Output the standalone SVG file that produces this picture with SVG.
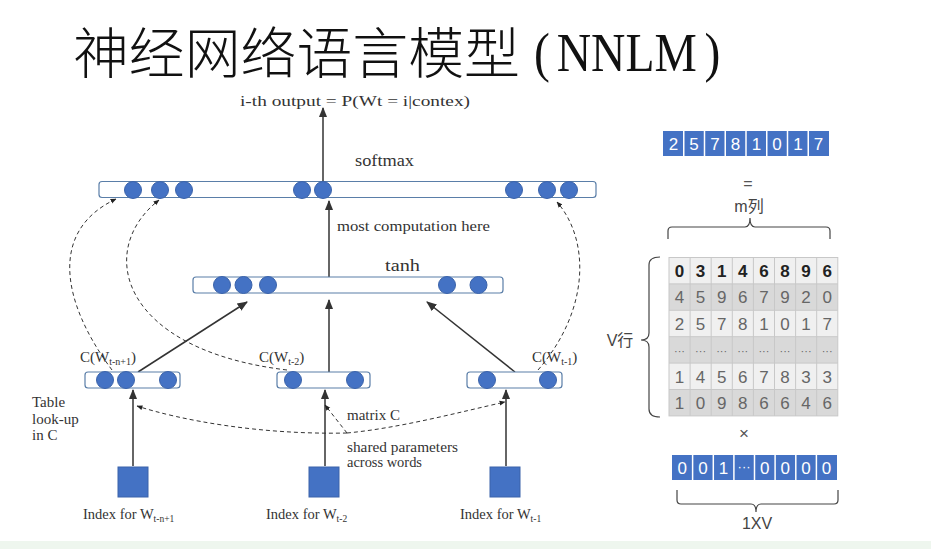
<svg xmlns="http://www.w3.org/2000/svg" width="931" height="549" viewBox="0 0 931 549">
<defs>
<style>
.bar{fill:#fff;stroke:#5a7ea8;stroke-width:1.2}
.nd{fill:#4472c4;stroke:#3b63aa;stroke-width:1}
.ln{stroke:#333;stroke-width:1.5;fill:none}
.ds{stroke:#333;stroke-width:1;fill:none;stroke-dasharray:4 3}
.sf{font-family:"Liberation Serif","DejaVu Serif",serif;fill:#333}
.ss{font-family:"Liberation Sans",Arial,sans-serif}
.cw{fill:#fff;font-size:17px;text-anchor:middle}
.mg{fill:#666;font-size:17px;text-anchor:middle}
.sq{fill:#4472c4;stroke:#3b63aa;stroke-width:1}
.br{stroke:#444;stroke-width:1.2;fill:none}
</style>
<marker id="ah" viewBox="0 0 10 10" refX="9" refY="5" markerWidth="7" markerHeight="7" orient="auto-start-reverse">
<path d="M0,1 L10,5 L0,9 z" fill="#333"/>
</marker>
<marker id="ahs" viewBox="0 0 10 10" refX="9" refY="5" markerWidth="6" markerHeight="6" orient="auto-start-reverse">
<path d="M0,1 L10,5 L0,9 z" fill="#222"/>
</marker>
</defs>
<rect width="931" height="549" fill="#fff"/>
<rect x="0" y="541" width="931" height="8" fill="#eef6ee"/>

<g id="title" fill="#111">
<text x="73" y="73" font-family="'Noto Sans CJK SC','Noto Sans CJK JP',sans-serif" font-weight="300" font-size="55" textLength="447" lengthAdjust="spacingAndGlyphs">神经网络语言模型</text>
<text transform="translate(534,71) scale(0.85,1)" x="0" y="0" font-family="'Liberation Serif',serif" font-size="56">(<tspan dx="8">NNLM</tspan><tspan dx="9">)</tspan></text>
</g>

<text id="formula" class="sf" x="240" y="106" font-size="15" fill="#222" textLength="230" lengthAdjust="spacingAndGlyphs">i-th output = P(Wt = i|contex)</text>

<g id="connectors">
<line class="ln" x1="323" y1="181" x2="323" y2="108" marker-end="url(#ah)"/>
<line class="ln" x1="329" y1="277" x2="329" y2="201" marker-end="url(#ah)"/>
<line class="ln" x1="138" y1="372" x2="247" y2="302" marker-end="url(#ah)"/>
<line class="ln" x1="329" y1="372" x2="329" y2="300" marker-end="url(#ah)"/>
<line class="ln" x1="515" y1="372" x2="427" y2="302" marker-end="url(#ah)"/>
<line class="ln" x1="133" y1="466" x2="133" y2="390" marker-end="url(#ah)"/>
<line class="ln" x1="325" y1="466" x2="325" y2="390" marker-end="url(#ah)"/>
<line class="ln" x1="506" y1="466" x2="506" y2="390" marker-end="url(#ah)"/>
<path class="ds" d="M112,370 C60,300 50,230 116,199" marker-end="url(#ahs)"/>
<path class="ds" d="M287,370 C120,350 95,250 159,200" marker-end="url(#ahs)"/>
<path class="ds" d="M538,370 C590,310 590,240 557,202" marker-end="url(#ahs)"/>
<path class="ds" d="M347,433 C260,435 180,420 137,406" marker-end="url(#ahs)"/>
<path class="ds" d="M347,433 C400,428 460,412 505,402" marker-end="url(#ahs)"/>
<path class="ds" d="M347,433 L325,405" marker-end="url(#ahs)"/>
</g>

<g id="softmax">
<rect class="bar" x="99" y="181.5" width="497" height="16" rx="3"/>
<circle class="nd" cx="133" cy="190" r="8.5"/>
<circle class="nd" cx="160" cy="190" r="8.5"/>
<circle class="nd" cx="184" cy="190" r="8.5"/>
<circle class="nd" cx="302" cy="190" r="8.5"/>
<circle class="nd" cx="323" cy="190" r="8.5"/>
<circle class="nd" cx="514" cy="190" r="8.5"/>
<circle class="nd" cx="547" cy="190" r="8.5"/>
<circle class="nd" cx="569" cy="190" r="8.5"/>
<text class="sf" x="355" y="166" font-size="16" textLength="59" lengthAdjust="spacingAndGlyphs">softmax</text>
</g>
<text class="sf" x="337" y="231" font-size="14.5" textLength="153" lengthAdjust="spacingAndGlyphs">most computation here</text>

<g id="tanh">
<rect class="bar" x="193" y="277" width="310" height="16" rx="3"/>
<circle class="nd" cx="222" cy="285" r="8.5"/>
<circle class="nd" cx="243.5" cy="285" r="8.5"/>
<circle class="nd" cx="268" cy="285" r="8.5"/>
<circle class="nd" cx="447" cy="285" r="8.5"/>
<circle class="nd" cx="478.5" cy="285" r="8.5"/>
<text class="sf" x="385" y="271" font-size="16.5" textLength="35" lengthAdjust="spacingAndGlyphs">tanh</text>
</g>

<g id="c1">
<rect class="bar" x="85" y="372" width="95" height="16" rx="3"/>
<circle class="nd" cx="105" cy="380" r="8.5"/>
<circle class="nd" cx="126" cy="380" r="8.5"/>
<circle class="nd" cx="168" cy="380" r="8.5"/>
<text class="sf" x="80" y="362" font-size="15">C(W<tspan font-size="10" dy="3">t-n+1</tspan><tspan dy="-3">)</tspan></text>
</g>
<g id="c2">
<rect class="bar" x="277" y="372" width="93" height="16" rx="3"/>
<circle class="nd" cx="293" cy="380" r="8.5"/>
<circle class="nd" cx="355" cy="380" r="8.5"/>
<text class="sf" x="259" y="362" font-size="15">C(W<tspan font-size="10" dy="3">t-2</tspan><tspan dy="-3">)</tspan></text>
</g>
<g id="c3">
<rect class="bar" x="467" y="372" width="95" height="16" rx="3"/>
<circle class="nd" cx="487" cy="380" r="8.5"/>
<circle class="nd" cx="548" cy="380" r="8.5"/>
<text class="sf" x="532" y="362" font-size="15">C(W<tspan font-size="10" dy="3">t-1</tspan><tspan dy="-3">)</tspan></text>
</g>

<g id="tablelookup">
<text class="sf" x="32" y="407" font-size="15">Table</text>
<text class="sf" x="32" y="424" font-size="15">look-up</text>
<text class="sf" x="32" y="440" font-size="15">in C</text>
</g>
<g id="matrixC">
<text class="sf" x="347" y="420" font-size="14.5" textLength="53" lengthAdjust="spacingAndGlyphs">matrix C</text>
<text class="sf" x="347" y="452" font-size="14.5" textLength="111" lengthAdjust="spacingAndGlyphs">shared parameters</text>
<text class="sf" x="347" y="467" font-size="14.5" textLength="75" lengthAdjust="spacingAndGlyphs">across words</text>
</g>

<g id="idx1">
<rect class="sq" x="118" y="467" width="30" height="30"/>
<text class="sf" x="83" y="519" font-size="14.5">Index for W<tspan font-size="9.5" dy="3">t-n+1</tspan></text>
</g>
<g id="idx2">
<rect class="sq" x="309" y="467" width="30" height="30"/>
<text class="sf" x="266" y="519" font-size="14.5">Index for W<tspan font-size="9.5" dy="3">t-2</tspan></text>
</g>
<g id="idx3">
<rect class="sq" x="490" y="467" width="30" height="30"/>
<text class="sf" x="460" y="519" font-size="14.5">Index for W<tspan font-size="9.5" dy="3">t-1</tspan></text>
</g>

<g id="toprow" class="ss">
<rect x="663" y="131" width="166" height="25" fill="#4472c4"/>
<g stroke="#fff" stroke-width="1.5">
<line x1="683.75" y1="131" x2="683.75" y2="156"/><line x1="704.5" y1="131" x2="704.5" y2="156"/>
<line x1="725.25" y1="131" x2="725.25" y2="156"/><line x1="746" y1="131" x2="746" y2="156"/>
<line x1="766.75" y1="131" x2="766.75" y2="156"/><line x1="787.5" y1="131" x2="787.5" y2="156"/>
<line x1="808.25" y1="131" x2="808.25" y2="156"/>
</g>
<g class="cw">
<text x="673.4" y="150">2</text><text x="694.1" y="150">5</text><text x="714.9" y="150">7</text><text x="735.6" y="150">8</text>
<text x="756.4" y="150">1</text><text x="777.1" y="150">0</text><text x="797.9" y="150">1</text><text x="818.6" y="150">7</text>
</g>
</g>
<text class="ss" x="748" y="189" font-size="16" fill="#555" text-anchor="middle">=</text>
<text x="749" y="212" font-family="'Liberation Sans','Noto Sans CJK SC',sans-serif" font-size="16" fill="#444" text-anchor="middle">m列</text>
<path class="br" d="M668,239 L668,231 Q668,227 672,227 L745,227 Q750,227 750,218 Q750,227 755,227 L826,227 Q830,227 830,231 L830,239"/>

<g id="matrix" class="ss">
<rect x="669" y="257.5" width="168.8" height="26.4" fill="#f0f0f0"/>
<rect x="669" y="283.9" width="168.8" height="26.4" fill="#d9d9d9"/>
<rect x="669" y="310.3" width="168.8" height="26.4" fill="#f0f0f0"/>
<rect x="669" y="336.7" width="168.8" height="26.4" fill="#d9d9d9"/>
<rect x="669" y="363.1" width="168.8" height="26.4" fill="#f0f0f0"/>
<rect x="669" y="389.5" width="168.8" height="26.4" fill="#d9d9d9"/>
<g stroke="#c8c8c8" stroke-width="1" fill="none">
<rect x="669" y="257.5" width="168.8" height="158.4"/>
<line x1="690.1" y1="257.5" x2="690.1" y2="415.9"/><line x1="711.2" y1="257.5" x2="711.2" y2="415.9"/>
<line x1="732.3" y1="257.5" x2="732.3" y2="415.9"/><line x1="753.4" y1="257.5" x2="753.4" y2="415.9"/>
<line x1="774.5" y1="257.5" x2="774.5" y2="415.9"/><line x1="795.6" y1="257.5" x2="795.6" y2="415.9"/>
<line x1="816.7" y1="257.5" x2="816.7" y2="415.9"/>
<line x1="669" y1="283.9" x2="837.8" y2="283.9"/><line x1="669" y1="310.3" x2="837.8" y2="310.3"/>
<line x1="669" y1="336.7" x2="837.8" y2="336.7"/><line x1="669" y1="363.1" x2="837.8" y2="363.1"/>
<line x1="669" y1="389.5" x2="837.8" y2="389.5"/>
</g>
<g font-size="17" text-anchor="middle" font-weight="bold" fill="#222">
<text x="679.5" y="277">0</text><text x="700.6" y="277">3</text><text x="721.7" y="277">1</text><text x="742.8" y="277">4</text>
<text x="763.9" y="277">6</text><text x="785" y="277">8</text><text x="806.1" y="277">9</text><text x="827.2" y="277">6</text>
</g>
<g class="mg">
<text x="679.5" y="303.4">4</text><text x="700.6" y="303.4">5</text><text x="721.7" y="303.4">9</text><text x="742.8" y="303.4">6</text>
<text x="763.9" y="303.4">7</text><text x="785" y="303.4">9</text><text x="806.1" y="303.4">2</text><text x="827.2" y="303.4">0</text>
<text x="679.5" y="329.8">2</text><text x="700.6" y="329.8">5</text><text x="721.7" y="329.8">7</text><text x="742.8" y="329.8">8</text>
<text x="763.9" y="329.8">1</text><text x="785" y="329.8">0</text><text x="806.1" y="329.8">1</text><text x="827.2" y="329.8">7</text>
<text x="679.5" y="355" font-size="11">···</text><text x="700.6" y="355" font-size="11">···</text><text x="721.7" y="355" font-size="11">···</text><text x="742.8" y="355" font-size="11">···</text>
<text x="763.9" y="355" font-size="11">···</text><text x="785" y="355" font-size="11">···</text><text x="806.1" y="355" font-size="11">···</text><text x="827.2" y="355" font-size="11">···</text>
<text x="679.5" y="382.6">1</text><text x="700.6" y="382.6">4</text><text x="721.7" y="382.6">5</text><text x="742.8" y="382.6">6</text>
<text x="763.9" y="382.6">7</text><text x="785" y="382.6">8</text><text x="806.1" y="382.6">3</text><text x="827.2" y="382.6">3</text>
<text x="679.5" y="409">1</text><text x="700.6" y="409">0</text><text x="721.7" y="409">9</text><text x="742.8" y="409">8</text>
<text x="763.9" y="409">6</text><text x="785" y="409">6</text><text x="806.1" y="409">4</text><text x="827.2" y="409">6</text>
</g>
</g>
<path class="br" d="M660,257 Q649,257 649,265 L649,333 Q649,340 641,340 Q649,340 649,347 L649,409 Q649,417 660,417"/>
<text x="620" y="346" font-family="'Liberation Sans','Noto Sans CJK SC',sans-serif" font-size="16" fill="#444" text-anchor="middle">V行</text>

<text class="ss" x="744" y="439" font-size="17" fill="#555" text-anchor="middle">×</text>

<g id="onehot" class="ss">
<rect x="672" y="455" width="165" height="25" fill="#4472c4"/>
<g stroke="#fff" stroke-width="1.5">
<line x1="692.6" y1="455" x2="692.6" y2="480"/><line x1="713.3" y1="455" x2="713.3" y2="480"/>
<line x1="733.9" y1="455" x2="733.9" y2="480"/><line x1="754.5" y1="455" x2="754.5" y2="480"/>
<line x1="775.1" y1="455" x2="775.1" y2="480"/><line x1="795.8" y1="455" x2="795.8" y2="480"/>
<line x1="816.4" y1="455" x2="816.4" y2="480"/>
</g>
<g class="cw">
<text x="682.3" y="474">0</text><text x="702.9" y="474">0</text><text x="723.5" y="474">1</text><text x="744.1" y="471" font-size="13">···</text>
<text x="764.7" y="474">0</text><text x="785.3" y="474">0</text><text x="805.9" y="474">0</text><text x="826.5" y="474">0</text>
</g>
</g>
<path class="br" d="M677,490 L677,500 Q677,504 681,504 L751,504 Q756,504 756,512 Q756,504 761,504 L834,504 Q838,504 838,500 L838,490"/>
<text class="ss" x="757" y="529" font-size="16" fill="#444" text-anchor="middle">1XV</text>
</svg>
